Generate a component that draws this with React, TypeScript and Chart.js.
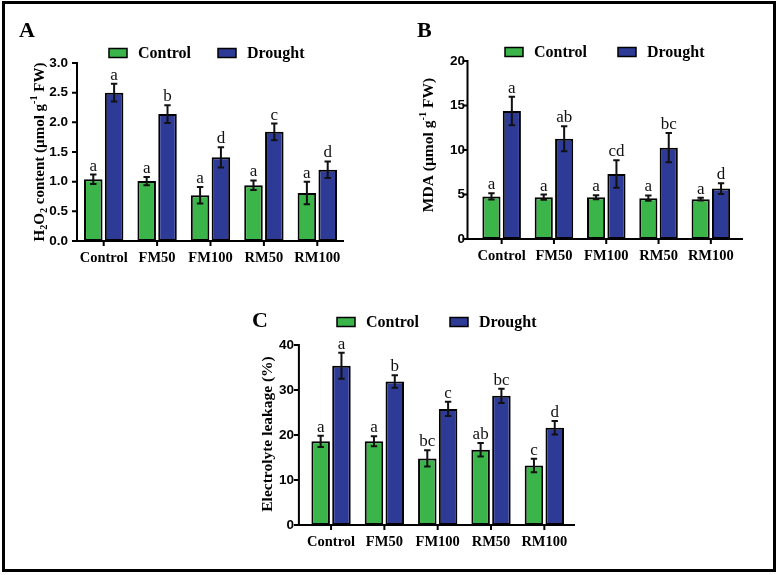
import React, { useEffect, useRef } from "react";
import { Chart, registerables } from "chart.js";

Chart.register(...registerables);

// ---------- data ----------
const categories = ["Control", "FM50", "FM100", "RM50", "RM100"];
const seriesNames = ["Control", "Drought"];

// Panel A: H2O2 content
const h2o2Control = [1.04, 1.01, 0.77, 0.94, 0.81];
const h2o2ControlErr = [0.08, 0.07, 0.14, 0.08, 0.19];
const h2o2Drought = [2.5, 2.14, 1.41, 1.84, 1.2];
const h2o2DroughtErr = [0.15, 0.15, 0.17, 0.14, 0.14];
const h2o2ControlLetters = ["a", "a", "a", "a", "a"];
const h2o2DroughtLetters = ["a", "b", "d", "c", "d"];

// Panel B: MDA
const mdaControl = [4.78, 4.7, 4.7, 4.59, 4.48];
const mdaControlErr = [0.35, 0.3, 0.22, 0.3, 0.15];
const mdaDrought = [14.37, 11.27, 7.31, 10.26, 5.67];
const mdaDroughtErr = [1.6, 1.4, 1.55, 1.65, 0.6];
const mdaControlLetters = ["a", "a", "a", "a", "a"];
const mdaDroughtLetters = ["a", "ab", "cd", "bc", "d"];

// Panel C: Electrolyte leakage
const elControl = [18.6, 18.6, 14.8, 16.7, 13.2];
const elControlErr = [1.25, 1.1, 1.8, 1.5, 1.5];
const elDrought = [35.4, 31.9, 25.8, 28.7, 21.6];
const elDroughtErr = [2.9, 1.4, 1.6, 1.6, 1.5];
const elControlLetters = ["a", "a", "bc", "ab", "c"];
const elDroughtLetters = ["a", "b", "c", "bc", "d"];

const GREEN = "#3bb54a";
const BLUE = "#2d3b97";

type Seg = { t: string; k?: "sub" | "sup" };

interface PanelCfg {
  letter: string;
  canvas: { left: number; top: number; width: number; height: number };
  area: { left: number; right: number; top: number; bottom: number };
  axisLeftGap: number;
  axisRightGap: number;
  yMax: number;
  yStep: number;
  decimals: number;
  yLabelPad: number;
  letterPos: [number, number];
  legendY: number;
  legendX: [number, number];
  titleCenter: [number, number];
  titleSize: number;
  title: Seg[];
  control: number[];
  controlErr: number[];
  drought: number[];
  droughtErr: number[];
  controlLetters: string[];
  droughtLetters: string[];
}

const panels: PanelCfg[] = [
  {
    letter: "A",
    canvas: { left: 0, top: 0, width: 390, height: 290 },
    area: { left: 77, right: 344, top: 63, bottom: 241 },
    axisLeftGap: 0,
    axisRightGap: 0,
    yMax: 3,
    yStep: 0.5,
    decimals: 1,
    yLabelPad: 9,
    letterPos: [19, 37],
    legendY: 53,
    legendX: [109, 218],
    titleCenter: [39, 152],
    titleSize: 15,
    title: [
      { t: "H" },
      { t: "2", k: "sub" },
      { t: "O" },
      { t: "2", k: "sub" },
      { t: " content (µmol g" },
      { t: "-1", k: "sup" },
      { t: " FW)" },
    ],
    control: h2o2Control,
    controlErr: h2o2ControlErr,
    drought: h2o2Drought,
    droughtErr: h2o2DroughtErr,
    controlLetters: h2o2ControlLetters,
    droughtLetters: h2o2DroughtLetters,
  },
  {
    letter: "B",
    canvas: { left: 390, top: 0, width: 390, height: 290 },
    area: { left: 475.5, right: 737, top: 61, bottom: 239 },
    axisLeftGap: 8,
    axisRightGap: 6,
    yMax: 20,
    yStep: 5,
    decimals: 0,
    yLabelPad: 10.5,
    letterPos: [417, 37],
    legendY: 52,
    legendX: [505, 618],
    titleCenter: [428, 145],
    titleSize: 15.5,
    title: [{ t: "MDA (µmol g" }, { t: "-1", k: "sup" }, { t: " FW)" }],
    control: mdaControl,
    controlErr: mdaControlErr,
    drought: mdaDrought,
    droughtErr: mdaDroughtErr,
    controlLetters: mdaControlLetters,
    droughtLetters: mdaDroughtLetters,
  },
  {
    letter: "C",
    canvas: { left: 200, top: 290, width: 420, height: 280 },
    area: { left: 304.4, right: 571, top: 345, bottom: 525 },
    axisLeftGap: 5.5,
    axisRightGap: 4,
    yMax: 40,
    yStep: 10,
    decimals: 0,
    yLabelPad: 10.5,
    letterPos: [252, 327],
    legendY: 322,
    legendX: [337, 450],
    titleCenter: [267, 434],
    titleSize: 15.5,
    title: [{ t: "Electrolyte leakage (%)" }],
    control: elControl,
    controlErr: elControlErr,
    drought: elDrought,
    droughtErr: elDroughtErr,
    controlLetters: elControlLetters,
    droughtLetters: elDroughtLetters,
  },
];

const X_SCALE_H = 30;

const decorPlugin = {
  id: "decor",
  afterDatasetsDraw(chart: any, _args: any, opts: any) {
    const p: PanelCfg = opts.panel;
    const ctx: CanvasRenderingContext2D = chart.ctx;
    const area = chart.chartArea;
    const ys = chart.scales.y;
    const xs = chart.scales.x;
    ctx.save();
    // error bars + significance letters
    chart.data.datasets.forEach((ds: any, di: number) => {
      const meta = chart.getDatasetMeta(di);
      const errs = di === 0 ? p.controlErr : p.droughtErr;
      const letters = di === 0 ? p.controlLetters : p.droughtLetters;
      meta.data.forEach((bar: any, i: number) => {
        const v = ds.data[i];
        const e = errs[i];
        const cx = bar.x;
        const yt = ys.getPixelForValue(v + e);
        const yb = ys.getPixelForValue(v - e);
        ctx.strokeStyle = "#111";
        ctx.lineWidth = 2;
        ctx.beginPath();
        ctx.moveTo(cx, yt);
        ctx.lineTo(cx, yb);
        ctx.moveTo(cx - 3.2, yt);
        ctx.lineTo(cx + 3.2, yt);
        ctx.moveTo(cx - 3.2, yb);
        ctx.lineTo(cx + 3.2, yb);
        ctx.stroke();
        ctx.fillStyle = "#111";
        ctx.font = '17px "Liberation Serif"';
        ctx.textAlign = "center";
        ctx.textBaseline = "alphabetic";
        ctx.fillText(letters[i], cx, yt - 4);
      });
    });
    // axes
    const axX = area.left - p.axisLeftGap;
    const axR = area.right + p.axisRightGap;
    ctx.strokeStyle = "#000";
    ctx.lineWidth = 2;
    ctx.beginPath();
    ctx.moveTo(axX, ys.getPixelForValue(p.yMax) - 1);
    ctx.lineTo(axX, area.bottom + 1);
    ctx.moveTo(axX - 1, area.bottom);
    ctx.lineTo(axR, area.bottom);
    // y ticks
    ys.ticks.forEach((t: any) => {
      const py = ys.getPixelForValue(t.value);
      ctx.moveTo(axX - 5, py);
      ctx.lineTo(axX, py);
    });
    // x ticks
    categories.forEach((_c, i) => {
      const px = xs.getPixelForValue(i);
      ctx.moveTo(px, area.bottom);
      ctx.lineTo(px, area.bottom + 5);
    });
    ctx.stroke();
    ctx.restore();
  },
  afterDraw(chart: any, _args: any, opts: any) {
    const p: PanelCfg = opts.panel;
    const ctx: CanvasRenderingContext2D = chart.ctx;
    const ox = p.canvas.left;
    const oy = p.canvas.top;
    ctx.save();
    // panel letter
    ctx.fillStyle = "#000";
    ctx.font = 'bold 22px "Liberation Serif"';
    ctx.textAlign = "left";
    ctx.textBaseline = "alphabetic";
    ctx.fillText(p.letter, p.letterPos[0] - ox, p.letterPos[1] - oy);
    // legend
    const colors = [GREEN, BLUE];
    ctx.font = 'bold 16px "Liberation Serif"';
    ctx.textBaseline = "middle";
    seriesNames.forEach((name, i) => {
      const bx = p.legendX[i] - ox;
      const by = p.legendY - oy;
      ctx.fillStyle = colors[i];
      ctx.fillRect(bx, by - 4.5, 18, 9);
      ctx.strokeStyle = "#000";
      ctx.lineWidth = 1.5;
      ctx.strokeRect(bx, by - 4.5, 18, 9);
      ctx.fillStyle = "#000";
      ctx.fillText(name, bx + 29, by + 1);
    });
    // y title with sub/superscripts
    const fs = p.titleSize;
    const mainFont = `bold ${fs}px "Liberation Serif"`;
    const smallFont = `bold ${fs * 0.68}px "Liberation Serif"`;
    let total = 0;
    const widths = p.title.map((s) => {
      ctx.font = s.k ? smallFont : mainFont;
      const w = ctx.measureText(s.t).width;
      total += w;
      return w;
    });
    ctx.translate(p.titleCenter[0] - ox, p.titleCenter[1] - oy);
    ctx.rotate(-Math.PI / 2);
    ctx.textAlign = "left";
    ctx.textBaseline = "middle";
    let cx = -total / 2;
    p.title.forEach((s, i) => {
      ctx.font = s.k ? smallFont : mainFont;
      const dy = s.k === "sub" ? fs * 0.3 : s.k === "sup" ? -fs * 0.38 : 0;
      ctx.fillText(s.t, cx, dy + 1);
      cx += widths[i];
    });
    ctx.restore();
  },
};

function Panel({ p }: { p: PanelCfg }) {
  const ref = useRef<HTMLCanvasElement>(null);
  useEffect(() => {
    const c = ref.current;
    if (!c) return;
    const yWidth = p.area.left - p.canvas.left;
    const padTop = p.area.top - p.canvas.top;
    const padRight = p.canvas.left + p.canvas.width - p.area.right;
    const padBottom = p.canvas.height - (p.area.bottom - p.canvas.top) - X_SCALE_H;
    const chart = new Chart(c, {
      type: "bar",
      data: {
        labels: categories,
        datasets: [
          {
            label: seriesNames[0],
            data: p.control,
            backgroundColor: GREEN,
            borderColor: "#000",
            borderWidth: 2,
            borderSkipped: false,
            categoryPercentage: 0.78,
            barPercentage: 0.89,
          },
          {
            label: seriesNames[1],
            data: p.drought,
            backgroundColor: BLUE,
            borderColor: "#000",
            borderWidth: 2,
            borderSkipped: false,
            categoryPercentage: 0.78,
            barPercentage: 0.89,
          },
        ],
      },
      options: {
        animation: false,
        responsive: false,
        maintainAspectRatio: false,
        events: [],
        layout: { padding: { left: 0, top: padTop, right: padRight, bottom: padBottom } },
        plugins: {
          legend: { display: false },
          tooltip: { enabled: false },
          decor: { panel: p },
        } as any,
        scales: {
          x: {
            type: "category",
            offset: true,
            grid: { display: false, drawTicks: false },
            border: { display: false },
            ticks: {
              color: "#000",
              font: { family: "Liberation Serif", size: 14.5, weight: "bold" },
              padding: 9,
              maxRotation: 0,
              autoSkip: false,
            },
            afterFit: (s: any) => {
              s.height = X_SCALE_H;
            },
          },
          y: {
            min: 0,
            max: p.yMax,
            grid: { display: false, drawTicks: false },
            border: { display: false },
            ticks: {
              stepSize: p.yStep,
              color: "#000",
              font: { family: "Liberation Sans", size: 13.5, weight: "bold" },
              padding: p.yLabelPad,
              callback: (v: any) => Number(v).toFixed(p.decimals),
            },
            afterFit: (s: any) => {
              s.width = yWidth;
            },
          },
        },
      },
      plugins: [decorPlugin],
    } as any);
    return () => chart.destroy();
  }, [p]);
  return (
    <canvas
      ref={ref}
      width={p.canvas.width}
      height={p.canvas.height}
      style={{
        position: "absolute",
        left: p.canvas.left,
        top: p.canvas.top,
        width: p.canvas.width,
        height: p.canvas.height,
      }}
    />
  );
}

export default function App() {
  return (
    <div
      style={{
        position: "fixed",
        left: 0,
        top: 0,
        width: 780,
        height: 575,
        background: "#fff",
        overflow: "hidden",
      }}
    >
      {panels.map((p) => (
        <Panel key={p.letter} p={p} />
      ))}
      <div
        style={{
          position: "absolute",
          left: 2,
          top: 1,
          width: 774,
          height: 571,
          boxSizing: "border-box",
          border: "3px solid #000",
          pointerEvents: "none",
        }}
      />
    </div>
  );
}
